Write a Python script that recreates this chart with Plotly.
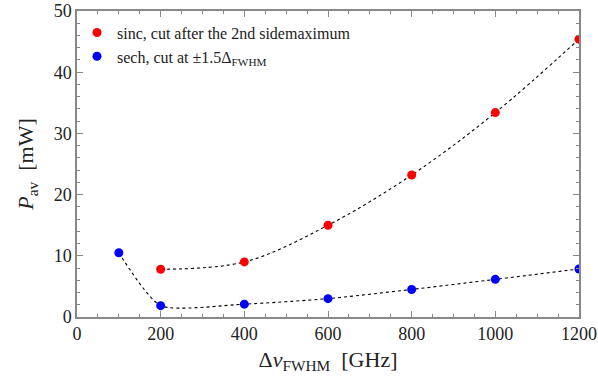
import plotly.graph_objects as go

sinc_x = [200, 400, 600, 800, 1000, 1200]
sinc_y = [7.8, 9.0, 15.0, 23.2, 33.4, 45.4]
sech_x = [100, 200, 400, 600, 800, 1000, 1200]
sech_y = [10.5, 1.85, 2.1, 3.0, 4.5, 6.15, 7.85]

sinc_name = "sinc, cut after the 2nd sidemaximum"
sech_name = "sech, cut at \u00b11.5\u0394<sub>FWHM</sub>"

FONT = "Liberation Serif"

fig = go.Figure()
fig.add_trace(go.Scatter(x=sinc_x, y=sinc_y, mode="lines", line=dict(color="black", width=1.1, dash="dot", shape="spline", smoothing=1.0), showlegend=False, hoverinfo="skip"))
fig.add_trace(go.Scatter(x=sech_x, y=sech_y, mode="lines", line=dict(color="black", width=1.1, dash="dot", shape="spline", smoothing=0.6), showlegend=False, hoverinfo="skip"))
fig.add_trace(go.Scatter(x=sinc_x, y=sinc_y, mode="markers", name=sinc_name, marker=dict(color="#ff0000", size=9)))
fig.add_trace(go.Scatter(x=sech_x, y=sech_y, mode="markers", name=sech_name, marker=dict(color="#0000ff", size=9)))

axis_common = dict(
    showgrid=False, zeroline=False, showline=True, linecolor="#888888", linewidth=1.5,
    mirror="ticks", ticks="inside", ticklen=6, tickcolor="#888888", tickwidth=1,
    tickfont=dict(family=FONT, size=18, color="#222222"), automargin=False,
    ticklabeloverflow="allow",
)

fig.update_layout(
    width=598, height=383,
    margin=dict(l=77, r=19, t=11, b=66),
    paper_bgcolor="white", plot_bgcolor="white",
    font=dict(family=FONT, color="#222222"),
    xaxis=dict(range=[0, 1200], dtick=200, tick0=0,
               minor=dict(ticks="inside", dtick=50, ticklen=3, tickcolor="#888888"),
               title=dict(text="\u0394<i>\u03bd</i><sub>FWHM</sub>  [GHz]", font=dict(family=FONT, size=22), standoff=8),
               **axis_common),
    yaxis=dict(range=[0, 50], dtick=10, tick0=0,
               minor=dict(ticks="inside", dtick=2, ticklen=3, tickcolor="#888888"),
               title=dict(text="<i>P</i><sub>av</sub>  [mW]", font=dict(family=FONT, size=22), standoff=14),
               **axis_common),
    legend=dict(x=0.0, y=0.985, xanchor="left", yanchor="top", bgcolor="rgba(0,0,0,0)",
                font=dict(family=FONT, size=16, color="#222222"), itemwidth=30),
)

fig.write_html("out.html")
